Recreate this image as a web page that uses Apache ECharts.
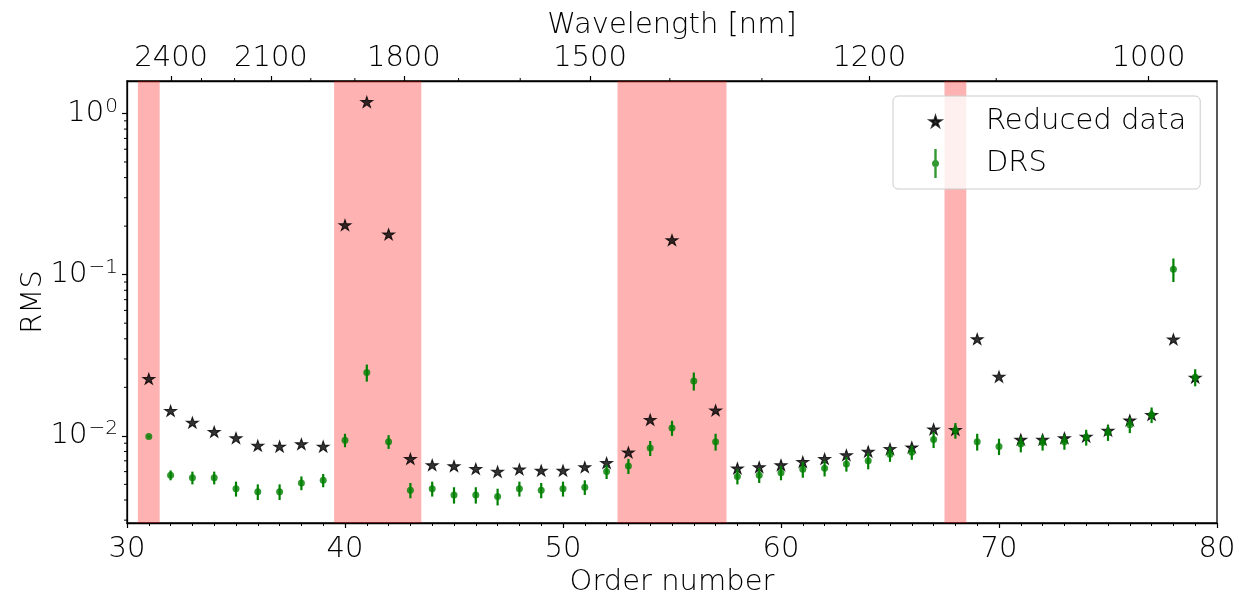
<!DOCTYPE html>
<html>
<head>
<meta charset="utf-8">
<script src="https://cdn.jsdelivr.net/npm/echarts@6/dist/echarts.min.js"></script>
<style>
html,body{margin:0;padding:0;background:#fff;}
#chart{width:1239px;height:597px;}
</style>
</head>
<body>
<div id="chart"></div>
<script>
// ---- data ----
const orders = [31,32,33,34,35,36,37,38,39,40,41,42,43,44,45,46,47,48,49,50,51,52,53,54,55,56,57,58,59,60,61,62,63,64,65,66,67,68,69,70,71,72,73,74,75,76,77,78,79];
const reducedRMS = [0.0226,0.0143,0.0121,0.0106,0.0097,0.0087,0.0086,0.0089,0.0086,0.203,1.18,0.178,0.0072,0.0066,0.0065,0.00625,0.0060,0.0062,0.0061,0.0061,0.0064,0.0068,0.0079,0.0126,0.164,null,0.0144,0.0063,0.0064,0.0066,0.0069,0.0072,0.0076,0.0080,0.0083,0.0085,0.0110,0.0109,0.0399,0.0233,0.0095,0.0095,0.0097,0.0099,0.0108,0.0125,0.0135,0.0397,0.0230];
const drsRMS = [0.0099,0.0057,0.0055,0.0055,0.0047,0.0045,0.0045,0.0051,0.0053,0.0094,0.0247,0.0092,0.0046,0.0047,0.0043,0.0043,0.0042,0.0047,0.0046,0.0047,0.0048,0.0060,0.0065,0.0084,0.0112,0.0219,0.0092,0.0056,0.0057,0.0059,0.0062,0.0063,0.0067,0.0070,0.0077,0.0079,0.0095,0.0108,0.0092,0.0086,0.0089,0.0091,0.0092,0.0098,0.0105,0.0117,0.0135,0.108,0.0231];
const drsErr = [0.0001,0.0004,0.0005,0.0005,0.0005,0.0005,0.0005,0.0005,0.0005,0.0009,0.003,0.0009,0.0005,0.0005,0.0005,0.0005,0.0005,0.0005,0.0005,0.0005,0.0005,0.0006,0.0007,0.0009,0.0012,0.0028,0.0011,0.0006,0.0006,0.0006,0.0007,0.0007,0.0007,0.0008,0.0008,0.0008,0.0011,0.0012,0.0011,0.0010,0.0010,0.0010,0.0010,0.0011,0.0012,0.0013,0.0015,0.018,0.0028];
const flaggedBands = [[30.5,31.5],[39.5,43.5],[52.5,57.5],[67.5,68.5]];
const wavelengthMajor = [2400,2100,1800,1500,1200,1000];
const wavelengthMinor = [2300,2200,2000,1900,1700,1600,1400,1300,1100];
const gratingConst = 76860; // wavelength[nm] * order
const yMajorTicks = [0.01,0.1,1];
const yMinorTicks = [0.003,0.004,0.005,0.006,0.007,0.008,0.009,0.02,0.03,0.04,0.05,0.06,0.07,0.08,0.09,0.2,0.3,0.4,0.5,0.6,0.7,0.8,0.9];
const X_MIN = 30, X_MAX = 80, Y_MIN = 0.00288, Y_MAX = 1.59;

// ---- build ----
const FONT = 'DejaVu Sans';
const FW = 200;
const FS = 29;
const starPath = 'path://M0,-10 L2.23,-3.07 L9.51,-3.09 L3.61,1.17 L5.88,8.09 L0,3.8 L-5.88,8.09 L-3.61,1.17 L-9.51,-3.09 L-2.23,-3.07 Z';
const drsIcon = 'path://M-3.5,0 A3.5,3.5 0 1,1 3.5,0 A3.5,3.5 0 1,1 -3.5,0 Z M-1.2,-14.5 L1.2,-14.5 L1.2,14.5 L-1.2,14.5 Z';

const starData = orders.map((o,i)=>[o, reducedRMS[i]]).filter(d=>d[1]!=null);
const drsData = orders.map((o,i)=>[o, drsRMS[i]]);
const errData = orders.map((o,i)=>[o, drsRMS[i]-drsErr[i], drsRMS[i]+drsErr[i]]);
const majorTopPos = wavelengthMajor.map(w=>gratingConst/w);
const minorTopData = wavelengthMinor.map(w=>[gratingConst/w, Y_MAX]);
const minorYData = yMinorTicks.map(v=>[X_MIN, v]);

function yLabel(v){
  const e = Math.round(Math.log10(v));
  const s = String(e).replace('-','−');
  return '{b|10}{s|' + s + '}';
}

const chart = echarts.init(document.getElementById('chart'), null, {renderer:'canvas'});
const axisLineStyle = {color:'#000', width:1.3};
const labelStyle = {fontFamily:FONT, fontWeight:FW, fontSize:FS, color:'#000'};
const nameStyle = {fontFamily:FONT, fontWeight:FW, fontSize:FS, color:'#000'};

chart.setOption({
  animation:false,
  backgroundColor:'#fff',
  grid:{left:127, right:22, top:81, bottom:74, show:true, borderColor:'#000', borderWidth:1.3, backgroundColor:'transparent', containLabel:false, outerBoundsMode:'none'},
  legend:{
    orient:'vertical', left:893, top:96,
    padding:[11,14,11,36],
    itemWidth:11, itemHeight:29, itemGap:13,
    backgroundColor:'rgba(255,255,255,0.8)', borderColor:'#cccccc', borderWidth:1, borderRadius:5,
    textStyle:{fontFamily:FONT, fontWeight:FW, fontSize:FS, color:'#000', padding:[0,0,0,40]},
    data:[{name:'Reduced data', icon:starPath}, {name:'DRS', icon:drsIcon}],
    selectedMode:false, z:20
  },
  xAxis:[
    {type:'value', position:'bottom', min:X_MIN, max:X_MAX, interval:10,
     name:'Order number', nameLocation:'middle', nameGap:45, nameMoveOverlap:false,
     nameTextStyle:nameStyle,
     axisLine:{show:true, lineStyle:axisLineStyle},
     axisTick:{show:true, inside:false, length:5, lineStyle:{color:'#000', width:1.2}},
     minorTick:{show:true, splitNumber:10, length:3, lineStyle:{color:'#000', width:1}},
     axisLabel:Object.assign({margin:12}, labelStyle),
     splitLine:{show:false}, minorSplitLine:{show:false}},
    {type:'value', position:'top', min:X_MIN, max:X_MAX,
     name:'Wavelength [nm]', nameLocation:'middle', nameGap:41, nameMoveOverlap:false,
     nameTextStyle:nameStyle,
     axisLine:{show:true, lineStyle:axisLineStyle},
     axisTick:{show:true, inside:false, length:5, customValues:majorTopPos, lineStyle:{color:'#000', width:1.2}},
     axisLabel:Object.assign({margin:8, customValues:majorTopPos, formatter:v=>String(Math.round(gratingConst/v))}, labelStyle),
     splitLine:{show:false}}
  ],
  yAxis:{type:'log', logBase:10, min:Y_MIN, max:Y_MAX,
     name:'RMS', nameLocation:'middle', nameGap:79, nameMoveOverlap:false,
     nameTextStyle:nameStyle,
     axisLine:{show:true, lineStyle:axisLineStyle},
     axisTick:{show:true, inside:false, length:5, customValues:yMajorTicks, lineStyle:{color:'#000', width:1.2}},
     axisLabel:{margin:9, customValues:yMajorTicks, formatter:yLabel,
       rich:{b:{fontFamily:FONT, fontWeight:FW, fontSize:FS, color:'#000'},
             s:{fontFamily:FONT, fontWeight:FW, fontSize:20, color:'#000', verticalAlign:'top', padding:[0,0,14,1]}}},
     splitLine:{show:false}},
  series:[
    {name:'bands', type:'scatter', data:[], z:1, silent:true,
     markArea:{silent:true, itemStyle:{color:'rgba(255,0,0,0.3)'},
       data:flaggedBands.map(b=>[{xAxis:b[0]},{xAxis:b[1]}])}},
    {name:'yMinorTicks', type:'custom', data:minorYData, clip:false, silent:true, z:6,
     renderItem:(params, api)=>{
       const p = api.coord([api.value(0), api.value(1)]);
       return {type:'line', shape:{x1:p[0]-3, y1:p[1], x2:p[0], y2:p[1]}, style:{stroke:'#000', lineWidth:1}};
     }},
    {name:'topMinorTicks', type:'custom', data:minorTopData, clip:false, silent:true, z:6,
     renderItem:(params, api)=>{
       const p = api.coord([api.value(0), api.value(1)]);
       return {type:'line', shape:{x1:p[0], y1:p[1], x2:p[0], y2:p[1]-3}, style:{stroke:'#000', lineWidth:1}};
     }},
    {name:'Reduced data', type:'scatter', data:starData, symbol:starPath, symbolSize:[12,11.5], symbolKeepAspect:true,
     itemStyle:{color:'#000', borderColor:'#000', borderWidth:1}, z:3},
    {name:'drsErr', type:'custom', data:errData, z:4, silent:true,
     renderItem:(params, api)=>{
       const lo = api.coord([api.value(0), api.value(1)]);
       const hi = api.coord([api.value(0), api.value(2)]);
       return {type:'line', shape:{x1:lo[0], y1:lo[1], x2:hi[0], y2:hi[1]}, style:{stroke:'#008000', lineWidth:2.2}};
     }},
    {name:'DRS', type:'scatter', data:drsData, symbol:'circle', symbolSize:7,
     itemStyle:{color:'#008000'}, z:5}
  ]
});
</script>
</body>
</html>
